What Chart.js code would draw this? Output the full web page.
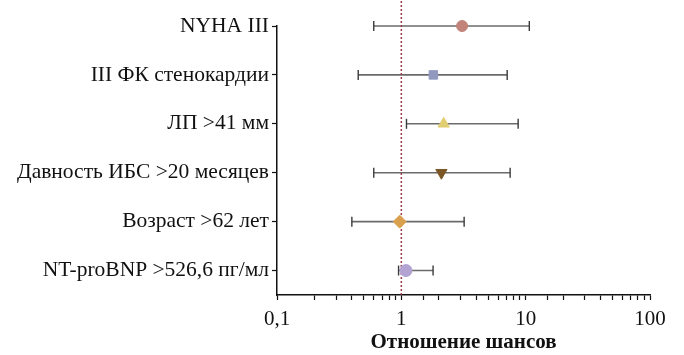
<!DOCTYPE html>
<html>
<head>
<meta charset="utf-8">
<script src="https://cdn.jsdelivr.net/npm/chart.js@4"></script>
<style>
  html, body { margin: 0; padding: 0; background: #fff; }
  #wrap { width: 684px; height: 355px; position: relative; }
</style>
</head>
<body>
<div id="wrap"><canvas id="forest"></canvas></div>
<script>
// rows listed top to bottom
const factors = ['NYHA III', 'III ФК стенокардии', 'ЛП >41 мм', 'Давность ИБС >20 месяцев', 'Возраст >62 лет', 'NT-proBNP >526,6 пг/мл'];
const oddsRatio = [3.08, 1.81, 2.19, 2.10, 0.97, 1.09];
const ciLow = [0.60, 0.45, 1.10, 0.60, 0.40, 0.95];
const ciHigh = [10.7, 7.1, 8.7, 7.5, 3.2, 1.8];
const xTickValues = [0.1, 1, 10, 100];
const xTickLabels = ['0,1', '1', '10', '100'];
const axisTitle = 'Отношение шансов';

const markerColors = ['#c2837a', '#9199c0', '#e2ce72', '#7b5726', '#d9a04e', '#b3a3d3'];
const markerStyles = ['circle', 'rect', 'triangle', 'triangle', 'rectRot', 'circle'];
const markerRotation = [0, 0, 0, 180, 0, 0];
const markerRadius = [5.5, 6, 6.5, 6.5, 6.5, 6];

const n = factors.length;
const rowY = i => n - 1 - i;
const serif = "'Liberation Serif', 'DejaVu Serif', serif";

const whiskers = factors.map((f, i) => ({
  type: 'line',
  data: [{ x: ciLow[i], y: rowY(i) }, { x: ciHigh[i], y: rowY(i) }],
  borderColor: '#6b6b6b',
  borderWidth: 1.6,
  pointStyle: 'line',
  rotation: 90,
  pointRadius: 5,
  pointBorderColor: '#3a3a3a',
  pointBorderWidth: 1.4,
  order: 2,
  clip: false
}));

new Chart(document.getElementById('forest'), {
  type: 'scatter',
  data: {
    datasets: [
      {
        data: oddsRatio.map((v, i) => ({ x: v, y: rowY(i) })),
        pointStyle: markerStyles,
        rotation: markerRotation,
        pointRadius: markerRadius,
        backgroundColor: markerColors,
        borderColor: markerColors,
        borderWidth: 1,
        order: 0,
        clip: false
      },
      {
        type: 'line',
        data: [{ x: 1, y: -0.5 }, { x: 1, y: n - 1 + 0.54 }],
        borderColor: '#9a3b4b',
        borderWidth: 1.5,
        borderDash: [2, 2],
        pointRadius: 0,
        order: 1,
        clip: false
      },
      ...whiskers
    ]
  },
  options: {
    responsive: true,
    maintainAspectRatio: false,
    animation: false,
    layout: { padding: { top: 26, right: 34, bottom: 0, left: 0 } },
    plugins: { legend: { display: false }, tooltip: { enabled: false } },
    scales: {
      x: {
        type: 'logarithmic',
        min: 0.1,
        max: 100,
        afterFit: s => { s.height = 60; },
        border: { color: '#111', width: 1.5 },
        grid: { drawOnChartArea: false, drawTicks: true, tickLength: 5, tickColor: '#111', tickWidth: 1.2 },
        ticks: {
          autoSkip: false,
          maxRotation: 0,
          padding: 7,
          color: '#111',
          font: { family: serif, size: 21 },
          callback: v => {
            const k = xTickValues.findIndex(t => Math.abs(t - v) < 1e-9);
            return k >= 0 ? xTickLabels[k] : '';
          }
        },
        title: {
          display: true,
          text: axisTitle,
          color: '#111',
          font: { family: serif, size: 21, weight: 'bold' },
          padding: { top: 0, bottom: 0 }
        }
      },
      y: {
        type: 'linear',
        min: -0.5,
        max: n - 1,
        afterFit: s => { s.width = 277; },
        afterBuildTicks: s => { s.ticks = factors.map((f, i) => ({ value: rowY(i) })); },
        border: { color: '#111', width: 1.5 },
        grid: { drawOnChartArea: false, drawTicks: true, tickLength: 5, tickColor: '#111', tickWidth: 1.2 },
        ticks: {
          padding: 3,
          color: '#111',
          font: { family: serif, size: 21.5 },
          callback: v => factors[n - 1 - v]
        }
      }
    }
  }
});
</script>
</body>
</html>
